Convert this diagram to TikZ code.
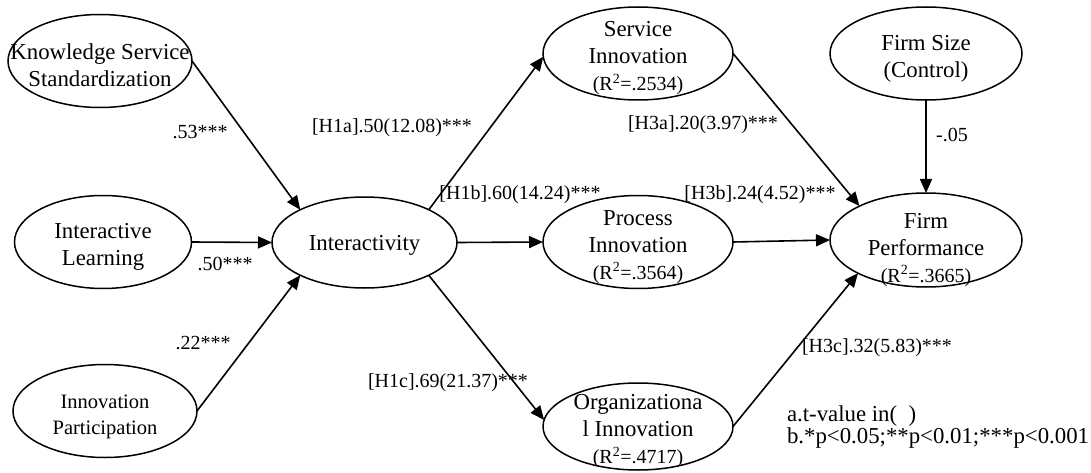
\documentclass[tikz,border=0pt]{standalone}
\usepackage{fontspec}
\setmainfont{Liberation Serif}
\usetikzlibrary{shapes.geometric,arrows.meta}
\newcommand\ovaltext[2][-10pt]{\smash{\raisebox{#1}{\makebox[0pt]{\begin{tabular}{@{}c@{}}#2\end{tabular}}}}}
\newcommand\rsq[1]{{\fontsize{20}{27}\selectfont(R\textsuperscript{2}=#1)}}
\begin{document}
\begin{tikzpicture}[y=1pt, x=1pt, yscale=-1, inner sep=0pt, outer sep=0pt,
  construct/.style={draw=black, ellipse, line width=1.5pt, minimum width=190pt,
    minimum height=93pt, font=\fontsize{22.8}{27}\selectfont},
  link/.style={draw=black, line width=1.6pt, -{Triangle[length=14pt,width=12pt]}},
  coef/.style={font=\fontsize{20}{24}\selectfont}]
\useasboundingbox (0,0) rectangle (1091,473);
  \path (100,61) node[construct,minimum width=184pt] (kss)
    {\ovaltext[-12pt]{Knowledge Service\\Standardization}};
  \path (103,242) node[construct,minimum width=177pt] (ilearn)
    {\ovaltext{Interactive\\Learning}};
  \path (105,411) node[construct,minimum width=184pt,font=\fontsize{20.5}{26}\selectfont] (ipart)
    {\ovaltext{Innovation\\Participation}};
  \path (364.5,242.5) node[construct,minimum width=185pt,minimum height=91pt] (intv)
    {\ovaltext[-8pt]{Interactivity}};
  \path (638,53.5) node[construct] (sinno)
    {\ovaltext{Service\\Innovation\\\rsq{.2534}}};
  \path (638,242) node[construct] (pinno)
    {\ovaltext{Process\\Innovation\\\rsq{.3564}}};
  \path (638,426.5) node[construct,minimum height=87pt] (oinno)
    {\ovaltext{Organizationa\\l Innovation\\\rsq{.4717}}};
  \path (926,53.5) node[construct,minimum width=192pt] (fsize)
    {\ovaltext{Firm Size\\(Control)}};
  \path (926,240) node[construct,minimum width=192pt,minimum height=94pt] (fperf)
    {\ovaltext[-15pt]{Firm\\Performance\\\rsq{.3665}}};
  \draw[link] (kss.east) -- (intv.153);
  \draw[link] (ilearn.east) -- (intv.west);
  \draw[link] (ipart.east) -- (intv.207);
  \draw[link] (intv.27) -- (sinno.182);
  \draw[link] (intv.east) -- (pinno.west);
  \draw[link] (intv.333) -- (oinno.176);
  \draw[link] (sinno.east) -- (fperf.153);
  \draw[link] (pinno.east) -- (fperf.west);
  \draw[link] (oinno.east) -- (fperf.206);
  \draw[link] (fsize.south) -- (fperf.north);
  \path (200,132) node[coef] (c53) {.53***};
  \path (225,264) node[coef] (c50) {.50***};
  \path (203,343) node[coef] (c22) {.22***};
  \path (392,128) node[coef] (h1a) {[H1a].50(12.08)***};
  \path (520,195) node[coef] (h1b) {[H1b].60(14.24)***};
  \path (448,383) node[coef] (h1c) {[H1c].69(21.37)***};
  \path (703,125) node[coef] (h3a) {[H3a].20(3.97)***};
  \path (760,195) node[coef] (h3b) {[H3b].24(4.52)***};
  \path (877,348) node[coef] (h3c) {[H3c].32(5.83)***};
  \path (952,135) node[coef] (c05) {-.05};
  \path (787,421) node[anchor=base west,font=\fontsize{22.8}{22}\selectfont] (nota)
    {a.t-value in(\ \ )};
  \path (787,443) node[anchor=base west,font=\fontsize{22.8}{22}\selectfont] (notb)
    {b.*p<0.05;**p<0.01;***p<0.001};
\end{tikzpicture}
\end{document}
